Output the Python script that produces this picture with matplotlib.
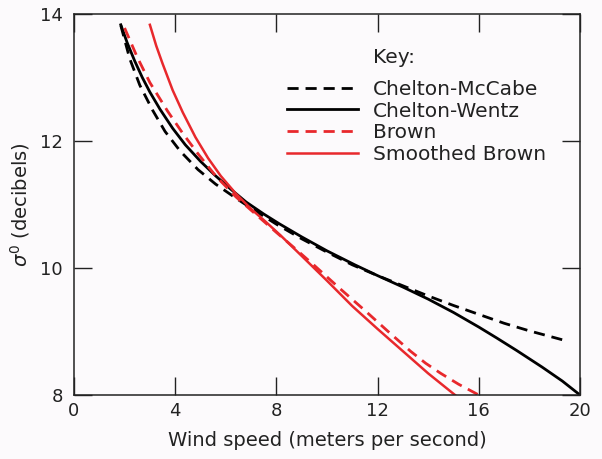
import numpy as np
import matplotlib
matplotlib.use("Agg")
import matplotlib.pyplot as plt

# Chelton-McCabe (black dashed)
cm_speed = [1.85, 2.2, 2.6, 3.1, 3.6, 4.2, 4.9, 5.6, 6.4, 7.2, 8.0, 9.0, 10.0,
            11.0, 12.0, 13.0, 14.0, 15.0, 16.0, 17.0, 18.0, 19.3]
cm_sigma = [13.82, 13.3, 12.88, 12.49, 12.15, 11.84, 11.55, 11.32, 11.1, 10.89, 10.69,
            10.46, 10.25, 10.05, 9.88, 9.72, 9.56, 9.41, 9.27, 9.13, 9.01, 8.87]

# Chelton-Wentz (black solid)
cw_speed = [1.85, 2.1, 2.4, 2.7, 3.0, 3.4, 3.9, 4.4, 5.0, 5.6, 6.2, 6.8, 7.5, 8.1,
            9.0, 10.0, 11.1, 12.0, 13.0, 14.0, 15.0, 16.0, 16.7, 17.5, 18.5, 19.3, 20.0]
cw_sigma = [13.83, 13.55, 13.26, 13.0, 12.77, 12.5, 12.2, 11.94, 11.68, 11.45, 11.24,
            11.04, 10.85, 10.7, 10.49, 10.27, 10.05, 9.88, 9.7, 9.51, 9.3, 9.07, 8.9,
            8.7, 8.44, 8.22, 8.0]

# Brown (red dashed)
br_speed = [2.0, 2.5, 3.0, 3.7, 4.3, 4.9, 5.6, 6.4, 7.2, 8.0, 8.7, 9.5, 10.5,
            11.5, 12.5, 13.3, 13.9, 14.5, 15.2, 16.0]
br_sigma = [13.78, 13.32, 12.92, 12.47, 12.12, 11.8, 11.45, 11.12, 10.84, 10.56, 10.32,
            10.04, 9.68, 9.33, 8.97, 8.69, 8.5, 8.34, 8.17, 8.0]

# Smoothed Brown (red solid)
sb_speed = [3.0, 3.25, 3.5, 3.9, 4.3, 4.8, 5.3, 5.8, 6.4, 7.0, 7.6, 8.2, 9.0, 10.0,
            11.0, 12.0, 13.0, 14.0, 15.06]
sb_sigma = [13.83, 13.5, 13.22, 12.8, 12.45, 12.06, 11.73, 11.45, 11.17, 10.93, 10.72,
            10.5, 10.19, 9.8, 9.4, 9.04, 8.69, 8.34, 8.0]

x_ticks = [0, 4, 8, 12, 16, 20]
y_ticks = [8, 10, 12, 14]

red = "#e8282c"
bg = "#fcfafc"

plt.rcParams["font.family"] = ["DejaVu Sans"]

fig = plt.figure(figsize=(6.02, 4.59), dpi=100, facecolor=bg)
ax = fig.add_axes([0.1229, 0.1394, 0.8406, 0.8301], facecolor=bg)

ax.plot(cm_speed, cm_sigma, color="black", lw=2.0, ls=(0, (4, 2.5)), label="Chelton-McCabe")
ax.plot(cw_speed, cw_sigma, color="black", lw=2.0, label="Chelton-Wentz")
ax.plot(br_speed, br_sigma, color=red, lw=2.0, ls=(0, (4, 2.5)), label="Brown")
ax.plot(sb_speed, sb_sigma, color=red, lw=1.8, label="Smoothed Brown")

ax.set_xlim(0, 20)
ax.set_ylim(8, 14)
ax.set_xticks(x_ticks)
ax.set_yticks(y_ticks)
ax.tick_params(direction="in", length=13, width=1, top=True, right=True,
               labelsize=13, colors="#222222", pad=5)
ax.tick_params(axis="y", pad=8)
for s in ax.spines.values():
    s.set_linewidth(1.1)
    s.set_color("#222222")

ax.set_xlabel("Wind speed (meters per second)", fontsize=14, color="#222222", labelpad=8)
ax.set_ylabel(r"$\sigma^0$ (decibels)", fontsize=14, color="#222222", labelpad=6)

ax.text(0.591, 0.887, "Key:", transform=ax.transAxes, fontsize=14.5,
        va="center", ha="left", color="#222222")
leg = ax.legend(loc="upper left", bbox_to_anchor=(0.421, 0.827), frameon=False,
                fontsize=14.5, handlelength=3.5, handletextpad=0.75,
                labelspacing=0.13, borderpad=0, borderaxespad=0)
for t in leg.get_texts():
    t.set_color("#222222")

fig.savefig("out.png", dpi=100, facecolor=bg)
